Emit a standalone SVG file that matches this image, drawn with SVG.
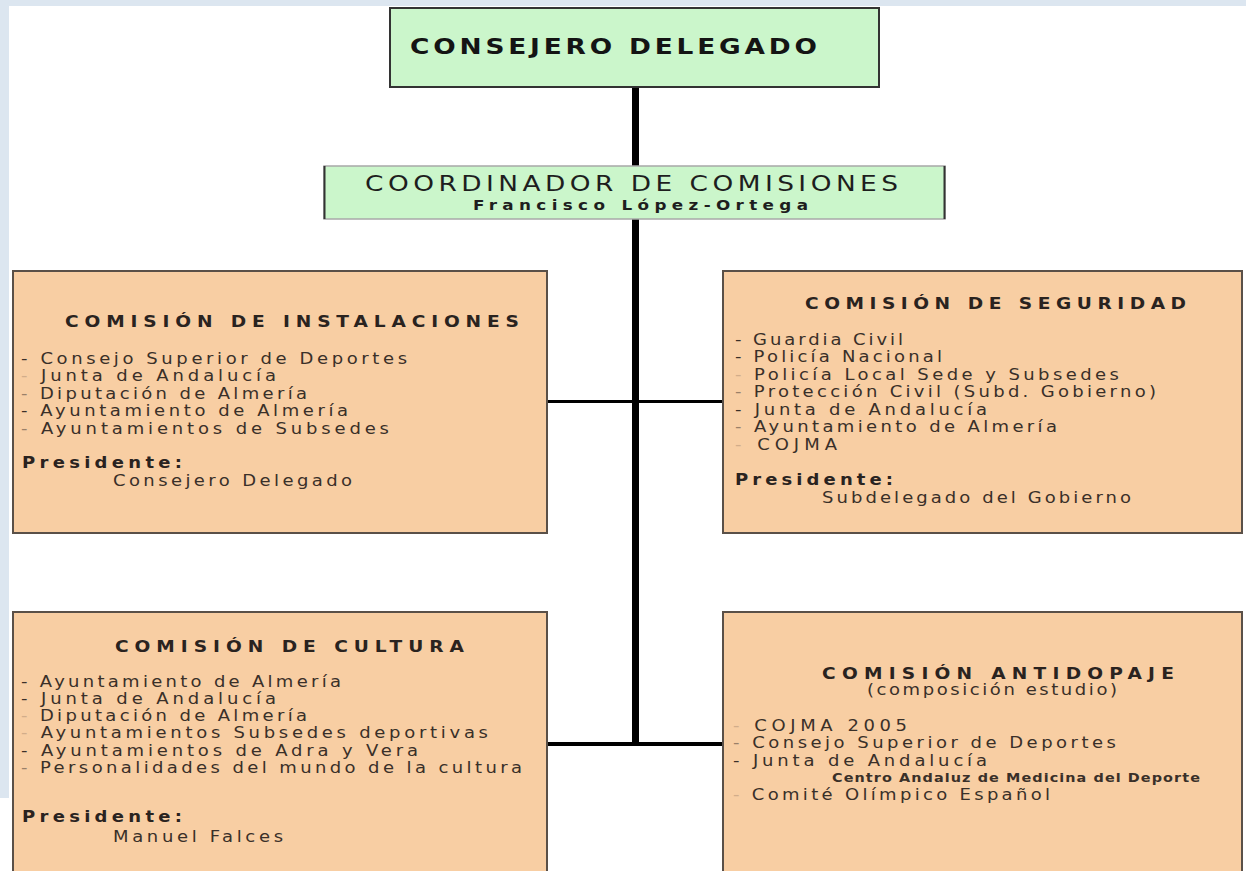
<svg xmlns="http://www.w3.org/2000/svg" width="1246" height="871" viewBox="0 0 1246 871">
<style>
text{font-family:"DejaVu Sans",Verdana,"Liberation Sans",sans-serif;fill:#3a3029}
.t{font-weight:bold;font-size:15.5px;fill:#2a231f}
.i{font-size:15px}
.p{font-weight:bold;font-size:15px;fill:#2a231f}
.dk{fill:#3a3029}
.md{fill:#9a8068}
.lt{fill:#d2ad8a}
.green{fill:#cbf6cb}
.orange{fill:#f8cea3;stroke:#5a5048;stroke-width:2}
.conn{stroke:#000;fill:none}
</style>
<rect x="0" y="0" width="1246" height="871" fill="#ffffff"/>
<rect x="0" y="0" width="1246" height="6" fill="#dce6f0"/>
<rect x="0" y="0" width="9" height="798" fill="#dce6f0"/>

<g id="connectors">
<line class="conn" x1="635.5" y1="87" x2="635.5" y2="746" stroke-width="7"/>
<line class="conn" x1="547" y1="401.5" x2="723" y2="401.5" stroke-width="3"/>
<line class="conn" x1="547" y1="744" x2="723" y2="744" stroke-width="4"/>
</g>

<g id="consejero">
<rect class="green" x="390" y="8" width="489" height="79" stroke="#333" stroke-width="2"/>
<g transform="scale(1.2,1)">
<text x="341.67" y="54" font-size="22" font-weight="bold" style="fill:#141414" textLength="339.17">CONSEJERO DELEGADO</text>
</g>
</g>

<g id="coordinador">
<rect class="green" x="324" y="166" width="621" height="53" stroke="#a8a8a8" stroke-width="1.5"/>
<line x1="324.5" y1="166" x2="324.5" y2="219" stroke="#333" stroke-width="2"/>
<line x1="944.5" y1="166" x2="944.5" y2="219" stroke="#333" stroke-width="2"/>
<g transform="scale(1.2,1)">
<text x="304.17" y="191" font-size="22" style="fill:#1e1e1e" textLength="444.17">COORDINADOR DE COMISIONES</text>
<text x="394.17" y="210" font-size="14" font-weight="bold" style="fill:#1e1e1e" textLength="279.17">Francisco López-Ortega</text>
</g>
</g>

<g id="instalaciones">
<rect class="orange" x="13" y="271" width="534" height="262"/>
<g transform="scale(1.2,1)">
<text class="t" x="54.17" y="327" textLength="378.33">COMISIÓN DE INSTALACIONES</text>
<text class="i" x="17.5" y="364" textLength="321.67"><tspan class="dk">-</tspan> Consejo Superior de Deportes</text>
<text class="i" x="17.5" y="381.5" textLength="212.5"><tspan class="lt">-</tspan> Junta de Andalucía</text>
<text class="i" x="17.5" y="399" textLength="238.33"><tspan class="md">-</tspan> Diputación de Almería</text>
<text class="i" x="17.5" y="416.5" textLength="272.5"><tspan class="dk">-</tspan> Ayuntamiento de Almería</text>
<text class="i" x="17.5" y="434" textLength="306.67"><tspan class="md">-</tspan> Ayuntamientos de Subsedes</text>
<text class="p" x="18.33" y="468" textLength="133.33">Presidente:</text>
<text class="i" x="94.17" y="486" textLength="199.17">Consejero Delegado</text>
</g>
</g>

<g id="seguridad">
<rect class="orange" x="723" y="271" width="519" height="262"/>
<g transform="scale(1.2,1)">
<text class="t" x="670.83" y="309" textLength="317.5">COMISIÓN DE SEGURIDAD</text>
<text class="i" x="612.5" y="345" textLength="140"><tspan class="dk">-</tspan> Guardia Civil</text>
<text class="i" x="612.5" y="362.5" textLength="172.5"><tspan class="dk">-</tspan> Policía Nacional</text>
<text class="i" x="612.5" y="380" textLength="320"><tspan class="lt">-</tspan> Policía Local Sede y Subsedes</text>
<text class="i" x="612.5" y="397.5" textLength="350.83"><tspan class="md">-</tspan> Protección Civil (Subd. Gobierno)</text>
<text class="i" x="612.5" y="415" textLength="210"><tspan class="dk">-</tspan> Junta de Andalucía</text>
<text class="i" x="612.5" y="432.5" textLength="268.33"><tspan class="md">-</tspan> Ayuntamiento de Almería</text>
<text class="i" x="612.5" y="450" textLength="85"><tspan class="lt">-</tspan> COJMA</text>
<text class="p" x="612.5" y="485" textLength="131.67">Presidente:</text>
<text class="i" x="685" y="503" textLength="257.5">Subdelegado del Gobierno</text>
</g>
</g>

<g id="cultura">
<rect class="orange" x="13" y="612" width="534" height="270"/>
<g transform="scale(1.2,1)">
<text class="t" x="95.83" y="652" textLength="290.83">COMISIÓN DE CULTURA</text>
<text class="i" x="17.5" y="687" textLength="266.67"><tspan class="dk">-</tspan> Ayuntamiento de Almería</text>
<text class="i" x="17.5" y="704" textLength="212.5"><tspan class="dk">-</tspan> Junta de Andalucía</text>
<text class="i" x="17.5" y="721" textLength="238.33"><tspan class="lt">-</tspan> Diputación de Almería</text>
<text class="i" x="17.5" y="738.5" textLength="389.17"><tspan class="lt">-</tspan> Ayuntamientos Subsedes deportivas</text>
<text class="i" x="17.5" y="756" textLength="330.83"><tspan class="dk">-</tspan> Ayuntamientos de Adra y Vera</text>
<text class="i" x="17.5" y="773.5" textLength="417.5"><tspan class="md">-</tspan> Personalidades del mundo de la cultura</text>
<text class="p" x="18.33" y="822" textLength="133.33">Presidente:</text>
<text class="i" x="94.17" y="842" textLength="141.67">Manuel Falces</text>
</g>
</g>

<g id="antidopaje">
<rect class="orange" x="723" y="612" width="519" height="270"/>
<g transform="scale(1.2,1)">
<text class="t" x="685" y="679" textLength="293.33">COMISIÓN ANTIDOPAJE</text>
<text class="i" x="722.5" y="695" textLength="208.33">(composición estudio)</text>
<text class="i" x="610.83" y="731" textLength="145"><tspan class="lt">-</tspan> COJMA 2005</text>
<text class="i" x="610.83" y="748.5" textLength="319.17"><tspan class="md">-</tspan> Consejo Superior de Deportes</text>
<text class="i" x="610.83" y="766" textLength="211.67"><tspan class="dk">-</tspan> Junta de Andalucía</text>
<text x="693.33" y="782.5" font-size="12" font-weight="bold" style="fill:#3a3029" textLength="306.67">Centro Andaluz de Medicina del Deporte</text>
<text class="i" x="610.83" y="800" textLength="264.17"><tspan class="lt">-</tspan> Comité Olímpico Español</text>
</g>
</g>
</svg>
